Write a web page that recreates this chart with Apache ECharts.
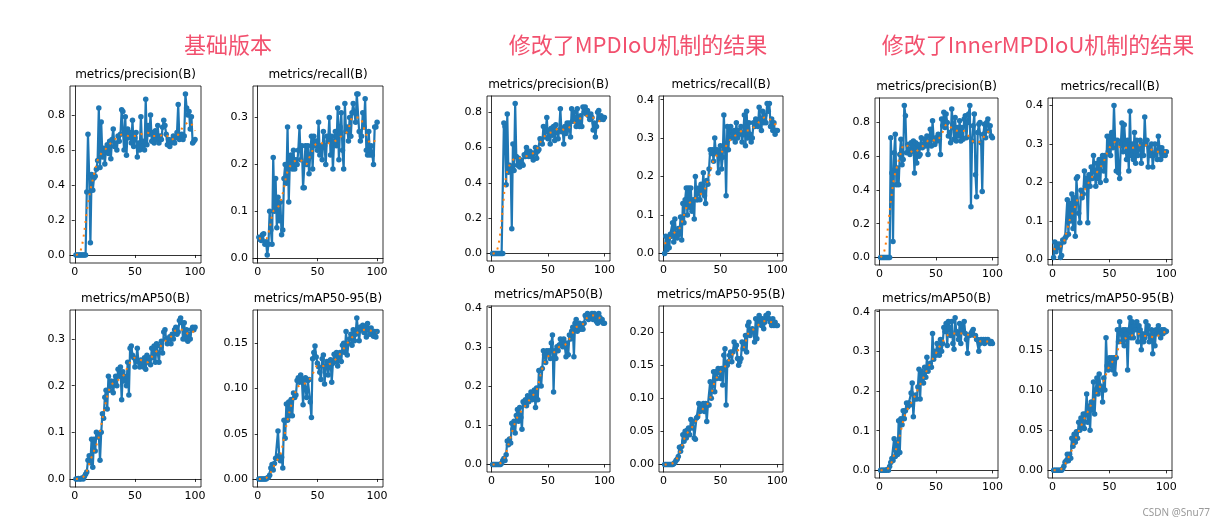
<!DOCTYPE html>
<html><head><meta charset="utf-8">
<script src="https://cdn.jsdelivr.net/npm/echarts@6/dist/echarts.min.js"></script>
<style>html,body{margin:0;padding:0;background:#fff}#c{width:1223px;height:528px}</style>
</head><body><div id="c"></div>
<script>
const epochs = [1,2,3,4,5,6,7,8,9,10,11,12,13,14,15,16,17,18,19,20,21,22,23,24,25,26,27,28,29,30,31,32,33,34,35,36,37,38,39,40,41,42,43,44,45,46,47,48,49,50,51,52,53,54,55,56,57,58,59,60,61,62,63,64,65,66,67,68,69,70,71,72,73,74,75,76,77,78,79,80,81,82,83,84,85,86,87,88,89,90,91,92,93,94,95,96,97,98,99,100];
const smoothEpochs = [1,4,7,10,13,16,19,22,25,30,35,40,45,50,55,60,65,70,75,80,85,90,95,100];

const groupTitles = ['基础版本','修改了MPDIoU机制的结果','修改了InnerMPDIoU机制的结果'];
const panelTitles = ['metrics/precision(B)','metrics/recall(B)','metrics/mAP50(B)','metrics/mAP50-95(B)'];
const xTickValues = [0,50,100];

// ---- 基础版本 ----
const baseP = [0,0,0,0,0,0,0,0,0,0.36,
 0.69,0.45,0.07,0.46,0.37,0.44,0.45,0.49,0.54,0.84,
 0.50,0.76,0.56,0.61,0.52,0.60,0.63,0.58,0.65,0.55,
 0.66,0.72,0.62,0.64,0.60,0.68,0.65,0.69,0.83,0.82,
 0.60,0.79,0.57,0.72,0.67,0.70,0.64,0.77,0.62,0.67,
 0.70,0.56,0.64,0.60,0.79,0.62,0.65,0.60,0.89,0.63,
 0.74,0.69,0.80,0.65,0.70,0.64,0.71,0.66,0.74,0.64,
 0.68,0.66,0.73,0.77,0.74,0.69,0.63,0.66,0.62,0.64,
 0.66,0.68,0.64,0.67,0.70,0.86,0.66,0.68,0.69,0.66,
 0.68,0.92,0.84,0.80,0.82,0.72,0.79,0.64,0.65,0.66];
const basePSmooth = [0,0.01,0.09,0.25,0.37,0.46,0.54,0.58,0.60,0.64,0.67,0.69,0.68,0.68,0.69,0.70,0.68,0.68,0.69,0.66,0.68,0.73,0.76,0.71];

const baseR = [0.045,0.04,0.038,0.05,0.052,0.03,0.035,0.007,0.03,0.10,
 0.06,0.03,0.215,0.10,0.17,0.065,0.13,0.08,0.12,0.05,
 0.06,0.17,0.20,0.16,0.28,0.12,0.21,0.22,0.19,0.23,
 0.19,0.21,0.20,0.23,0.28,0.21,0.24,0.15,0.15,0.24,
 0.20,0.24,0.18,0.22,0.26,0.19,0.26,0.24,0.25,0.23,
 0.29,0.22,0.24,0.21,0.27,0.24,0.20,0.26,0.25,0.30,
 0.22,0.26,0.19,0.25,0.27,0.24,0.32,0.21,0.28,0.31,
 0.23,0.19,0.33,0.27,0.28,0.25,0.30,0.26,0.31,0.33,
 0.31,0.29,0.35,0.35,0.27,0.25,0.26,0.31,0.28,0.34,
 0.23,0.22,0.27,0.22,0.24,0.22,0.20,0.28,0.28,0.29];
const baseRSmooth = [0.042,0.043,0.042,0.065,0.10,0.105,0.12,0.15,0.185,0.205,0.21,0.20,0.225,0.245,0.245,0.245,0.25,0.26,0.27,0.30,0.30,0.27,0.245,0.255];

const baseM50 = [0,0,0.001,0,0,0.002,0,0.005,0.01,0.015,
 0.04,0.05,0.035,0.085,0.025,0.085,0.06,0.10,0.09,0.095,
 0.04,0.10,0.14,0.13,0.175,0.19,0.15,0.22,0.19,0.21,
 0.20,0.185,0.21,0.22,0.20,0.235,0.22,0.24,0.17,0.23,
 0.21,0.22,0.20,0.25,0.18,0.28,0.285,0.265,0.26,0.24,
 0.255,0.28,0.25,0.24,0.255,0.245,0.24,0.26,0.235,0.265,
 0.25,0.26,0.245,0.28,0.26,0.285,0.25,0.29,0.27,0.25,
 0.285,0.295,0.27,0.315,0.32,0.30,0.29,0.30,0.305,0.29,
 0.31,0.30,0.32,0.325,0.31,0.315,0.34,0.345,0.335,0.30,
 0.335,0.30,0.32,0.295,0.31,0.30,0.32,0.325,0.32,0.325];
const baseM50Smooth = [0,0.001,0.004,0.017,0.04,0.06,0.08,0.115,0.155,0.20,0.21,0.22,0.245,0.26,0.255,0.25,0.265,0.28,0.295,0.305,0.32,0.32,0.31,0.32];

const baseM5095 = [0,0,0,0,0,0,0,0.001,0.002,0.004,
 0.012,0.016,0.01,0.017,0.023,0.023,0.053,0.026,0.02,0.024,
 0.012,0.065,0.045,0.083,0.065,0.085,0.07,0.088,0.07,0.095,
 0.090,0.093,0.109,0.112,0.107,0.115,0.11,0.082,0.11,0.112,
 0.09,0.109,0.11,0.085,0.068,0.133,0.14,0.147,0.135,0.128,
 0.124,0.118,0.110,0.133,0.137,0.105,0.125,0.13,0.115,0.125,
 0.132,0.107,0.128,0.138,0.13,0.14,0.125,0.135,0.14,0.13,
 0.148,0.15,0.140,0.163,0.137,0.15,0.155,0.16,0.148,0.165,
 0.153,0.16,0.178,0.165,0.153,0.168,0.165,0.17,0.162,0.168,
 0.157,0.172,0.165,0.16,0.167,0.163,0.158,0.163,0.157,0.163];
const baseM5095Smooth = [0,0,0.001,0.005,0.013,0.02,0.027,0.045,0.065,0.09,0.104,0.106,0.113,0.125,0.125,0.127,0.132,0.14,0.15,0.158,0.163,0.165,0.164,0.162];

// ---- MPDIoU ----
const mpdP = [0,0,0,0,0,0,0,0,0,0,
 0.74,0.72,0.39,0.79,0.46,0.50,0.48,0.14,0.62,0.47,
 0.85,0.55,0.50,0.54,0.49,0.53,0.51,0.50,0.56,0.55,
 0.60,0.57,0.55,0.58,0.55,0.57,0.53,0.57,0.60,0.54,
 0.58,0.59,0.65,0.64,0.62,0.72,0.66,0.69,0.77,0.65,
 0.70,0.62,0.71,0.67,0.72,0.64,0.73,0.69,0.65,0.70,
 0.82,0.69,0.71,0.62,0.72,0.68,0.74,0.70,0.74,0.66,
 0.82,0.75,0.80,0.77,0.72,0.82,0.74,0.72,0.78,0.72,
 0.83,0.80,0.83,0.79,0.81,0.78,0.76,0.79,0.77,0.70,
 0.74,0.66,0.72,0.80,0.81,0.76,0.78,0.77,0.76,0.77];
const mpdPSmooth = [0,0.005,0.08,0.25,0.44,0.50,0.53,0.54,0.54,0.55,0.56,0.59,0.65,0.68,0.69,0.71,0.70,0.72,0.75,0.77,0.78,0.77,0.75,0.77];

const mpdR = [0,0.045,0.01,0.04,0.015,0.05,0.045,0.08,0.03,0.09,
 0.05,0.04,0.065,0.05,0.095,0.035,0.13,0.08,0.14,0.17,
 0.10,0.17,0.12,0.17,0.11,0.14,0.09,0.20,0.14,0.14,
 0.17,0.14,0.18,0.16,0.21,0.15,0.13,0.19,0.18,0.22,
 0.27,0.26,0.27,0.24,0.30,0.26,0.27,0.21,0.26,0.28,
 0.22,0.25,0.36,0.28,0.15,0.33,0.27,0.32,0.33,0.30,
 0.31,0.32,0.29,0.34,0.30,0.32,0.31,0.33,0.29,0.31,
 0.36,0.28,0.37,0.30,0.34,0.31,0.29,0.30,0.34,0.33,
 0.35,0.34,0.33,0.38,0.35,0.32,0.37,0.34,0.36,0.34,
 0.39,0.37,0.39,0.33,0.35,0.32,0.34,0.31,0.32,0.32];
const mpdRSmooth = [0.025,0.035,0.045,0.055,0.06,0.08,0.11,0.13,0.135,0.15,0.16,0.20,0.25,0.26,0.28,0.30,0.31,0.32,0.32,0.33,0.345,0.355,0.345,0.33];

const mpdM50 = [0,0,0,0,0,0,0,0,0.003,0.01,
 0.015,0.01,0.025,0.06,0.05,0.065,0.055,0.105,0.09,0.11,
 0.08,0.125,0.14,0.11,0.145,0.12,0.09,0.16,0.155,0.165,
 0.15,0.175,0.16,0.17,0.185,0.165,0.17,0.19,0.145,0.195,
 0.165,0.24,0.24,0.20,0.245,0.29,0.28,0.26,0.29,0.28,
 0.29,0.27,0.31,0.33,0.185,0.29,0.27,0.30,0.29,0.305,
 0.32,0.31,0.30,0.32,0.30,0.275,0.31,0.28,0.33,0.32,
 0.34,0.35,0.275,0.36,0.37,0.34,0.35,0.36,0.345,0.355,
 0.345,0.36,0.38,0.375,0.385,0.37,0.38,0.375,0.385,0.37,
 0.385,0.38,0.365,0.36,0.385,0.375,0.365,0.37,0.36,0.36];
const mpdM50Smooth = [0,0,0.002,0.008,0.03,0.06,0.09,0.115,0.13,0.15,0.17,0.19,0.245,0.275,0.285,0.30,0.305,0.325,0.35,0.355,0.375,0.38,0.375,0.365];

const mpdM5095 = [0,0,0,0,0,0,0,0,0.001,0.003,
 0.006,0.008,0.012,0.026,0.02,0.027,0.045,0.035,0.05,0.04,
 0.052,0.055,0.045,0.068,0.055,0.065,0.04,0.038,0.07,0.072,
 0.092,0.08,0.09,0.085,0.092,0.08,0.092,0.065,0.09,0.09,
 0.125,0.10,0.12,0.14,0.11,0.14,0.13,0.145,0.14,0.13,
 0.145,0.12,0.165,0.175,0.09,0.15,0.155,0.165,0.17,0.155,
 0.17,0.185,0.175,0.18,0.16,0.15,0.155,0.16,0.185,0.175,
 0.18,0.195,0.17,0.21,0.215,0.195,0.20,0.205,0.20,0.185,
 0.22,0.19,0.215,0.225,0.22,0.21,0.22,0.205,0.215,0.225,
 0.22,0.228,0.22,0.215,0.21,0.22,0.21,0.215,0.21,0.21];
const mpdM5095Smooth = [0,0,0.001,0.004,0.013,0.027,0.042,0.05,0.056,0.07,0.085,0.095,0.125,0.14,0.15,0.165,0.172,0.175,0.20,0.205,0.213,0.217,0.215,0.213];

// ---- InnerMPDIoU ----
const innP = [0,0,0,0,0,0,0,0,0,0.71,
 0.50,0.095,0.62,0.73,0.43,0.53,0.43,0.61,0.70,0.55,
 0.58,0.90,0.84,0.62,0.67,0.64,0.61,0.68,0.63,0.69,
 0.50,0.68,0.56,0.67,0.60,0.61,0.71,0.65,0.67,0.70,
 0.66,0.72,0.61,0.69,0.76,0.66,0.81,0.70,0.67,0.71,
 0.69,0.73,0.70,0.61,0.82,0.78,0.86,0.77,0.85,0.80,
 0.72,0.74,0.68,0.88,0.79,0.70,0.83,0.69,0.77,0.72,
 0.81,0.69,0.77,0.70,0.82,0.84,0.71,0.80,0.85,0.90,
 0.30,0.69,0.78,0.85,0.49,0.36,0.74,0.79,0.80,0.68,
 0.39,0.73,0.79,0.71,0.80,0.82,0.75,0.78,0.72,0.71];
const innPSmooth = [0,0.03,0.15,0.33,0.47,0.55,0.62,0.67,0.66,0.62,0.64,0.67,0.70,0.69,0.73,0.79,0.76,0.75,0.75,0.71,0.68,0.69,0.74,0.75];

const innR = [0.005,0.045,0.02,0.04,0.03,0.04,0.005,0.01,0.05,0.045,
 0.055,0.06,0.155,0.065,0.145,0.10,0.17,0.08,0.16,0.06,
 0.21,0.215,0.12,0.095,0.18,0.16,0.17,0.23,0.19,0.21,
 0.095,0.22,0.19,0.24,0.21,0.27,0.23,0.19,0.25,0.21,
 0.26,0.20,0.26,0.27,0.23,0.27,0.205,0.32,0.28,0.32,
 0.27,0.33,0.29,0.40,0.31,0.23,0.31,0.225,0.21,0.30,
 0.355,0.28,0.35,0.30,0.26,0.31,0.23,0.385,0.27,0.30,
 0.26,0.33,0.25,0.31,0.27,0.29,0.31,0.25,0.30,0.27,
 0.37,0.30,0.31,0.24,0.29,0.27,0.30,0.24,0.27,0.30,
 0.28,0.26,0.32,0.29,0.26,0.29,0.27,0.28,0.27,0.28];
const innRSmooth = [0.025,0.03,0.033,0.045,0.08,0.11,0.13,0.155,0.165,0.19,0.215,0.23,0.255,0.29,0.305,0.29,0.29,0.29,0.295,0.30,0.29,0.28,0.28,0.28];

const innM50 = [0,0,0,0,0,0,0.002,0,0.01,0.02,
 0.03,0.025,0.08,0.035,0.07,0.04,0.125,0.045,0.13,0.115,
 0.15,0.13,0.15,0.17,0.16,0.17,0.165,0.195,0.22,0.135,
 0.18,0.19,0.18,0.21,0.255,0.18,0.25,0.24,0.22,0.26,
 0.235,0.285,0.25,0.265,0.27,0.26,0.345,0.28,0.30,0.29,
 0.32,0.30,0.29,0.33,0.30,0.32,0.36,0.35,0.37,0.315,
 0.375,0.36,0.34,0.375,0.32,0.305,0.385,0.35,0.345,0.33,
 0.37,0.32,0.365,0.35,0.375,0.345,0.33,0.295,0.34,0.34,
 0.345,0.35,0.355,0.34,0.34,0.33,0.33,0.30,0.32,0.33,
 0.325,0.33,0.32,0.33,0.325,0.33,0.325,0.32,0.325,0.32];
const innM50Smooth = [0,0,0.003,0.015,0.04,0.065,0.10,0.135,0.155,0.18,0.21,0.24,0.27,0.295,0.32,0.34,0.345,0.345,0.345,0.34,0.335,0.325,0.325,0.325];

const innM5095 = [0,0,0,0,0,0,0,0,0.002,0.005,
 0.01,0.012,0.02,0.012,0.02,0.015,0.04,0.03,0.045,0.035,
 0.048,0.04,0.06,0.05,0.065,0.055,0.07,0.052,0.07,0.095,
 0.06,0.08,0.05,0.085,0.075,0.11,0.07,0.10,0.115,0.095,
 0.12,0.105,0.10,0.085,0.115,0.10,0.165,0.13,0.125,0.14,
 0.13,0.14,0.125,0.14,0.12,0.14,0.175,0.16,0.185,0.17,
 0.16,0.175,0.155,0.175,0.17,0.125,0.175,0.19,0.165,0.185,
 0.165,0.18,0.175,0.185,0.16,0.18,0.175,0.15,0.17,0.16,
 0.165,0.185,0.17,0.18,0.16,0.165,0.175,0.145,0.17,0.155,
 0.175,0.17,0.18,0.17,0.165,0.175,0.17,0.175,0.172,0.173];
const innM5095Smooth = [0,0,0.001,0.005,0.013,0.022,0.035,0.045,0.055,0.07,0.085,0.10,0.112,0.13,0.14,0.16,0.165,0.168,0.17,0.167,0.167,0.165,0.17,0.173];

const ticksP = [0,0.2,0.4,0.6,0.8];
const ticks03 = [0,0.1,0.2,0.3];
const ticks04 = [0,0.1,0.2,0.3,0.4];
const ticks015 = [0,0.05,0.10,0.15];
const ticks020 = [0,0.05,0.10,0.15,0.20];

const panels = [
  {t:0, d:baseP, s:basePSmooth, ticks:ticksP, dec:1, r:[70,86,131,177]},
  {t:1, d:baseR, s:baseRSmooth, ticks:ticks03, dec:1, r:[253,86,130,177]},
  {t:2, d:baseM50, s:baseM50Smooth, ticks:ticks03, dec:1, r:[70,310,131,177]},
  {t:3, d:baseM5095, s:baseM5095Smooth, ticks:ticks015, dec:2, r:[253,310,130,177]},
  {t:0, d:mpdP, s:mpdPSmooth, ticks:ticksP, dec:1, r:[487,96,123,165]},
  {t:1, d:mpdR, s:mpdRSmooth, ticks:ticks04, dec:1, r:[659,96,124,165]},
  {t:2, d:mpdM50, s:mpdM50Smooth, ticks:ticks04, dec:1, r:[487,306,123,166]},
  {t:3, d:mpdM5095, s:mpdM5095Smooth, ticks:ticks020, dec:2, r:[659,306,124,166]},
  {t:0, d:innP, s:innPSmooth, ticks:ticksP, dec:1, r:[875,98,123,167]},
  {t:1, d:innR, s:innRSmooth, ticks:ticks04, dec:1, r:[1048,98,124,167]},
  {t:2, d:innM50, s:innM50Smooth, ticks:ticks04, dec:1, r:[875,310,123,168]},
  {t:3, d:innM5095, s:innM5095Smooth, ticks:ticks015, dec:2, r:[1048,310,124,168]}
];

const FONT = 'DejaVu Sans';
const grid = [], xAxis = [], yAxis = [], series = [], graphic = [];

panels.forEach((p, i) => {
  const [l, t, w, h] = p.r;
  grid.push({left:l, top:t, width:w, height:h, show:true, borderColor:'#000', borderWidth:0.8, backgroundColor:'#fff', containLabel:false});
  const all = p.d.concat(p.s);
  const lo = Math.min(...all), hi = Math.max(...all), pad = (hi - lo) * 0.05;
  xAxis.push({type:'value', gridIndex:i, min:-3.95, max:104.95,
    axisLine:{show:true, lineStyle:{color:'#000', width:0.8}},
    axisTick:{show:true, length:3, customValues:xTickValues, lineStyle:{color:'#000', width:0.8}},
    axisLabel:{show:true, customValues:xTickValues, color:'#000', fontSize:11, fontFamily:FONT, margin:4, formatter:v => String(Math.round(v))},
    splitLine:{show:false}});
  yAxis.push({type:'value', gridIndex:i, min:lo - pad, max:hi + pad,
    axisLine:{show:true, lineStyle:{color:'#000', width:0.8}},
    axisTick:{show:true, length:3, customValues:p.ticks, lineStyle:{color:'#000', width:0.8}},
    axisLabel:{show:true, customValues:p.ticks, color:'#000', fontSize:11, fontFamily:FONT, margin:5, formatter:v => v.toFixed(p.dec)},
    splitLine:{show:false}});
  series.push({type:'line', xAxisIndex:i, yAxisIndex:i, data:epochs.map((e, k) => [e, p.d[k]]),
    symbol:'circle', symbolSize:5.5, showSymbol:true, showAllSymbol:true,
    lineStyle:{color:'#1f77b4', width:2.2}, itemStyle:{color:'#1f77b4', borderWidth:0}, z:2, silent:true});
  series.push({type:'line', xAxisIndex:i, yAxisIndex:i, data:smoothEpochs.map((e, k) => [e, p.s[k]]),
    symbol:'none', smooth:0.35,
    lineStyle:{color:'#ff7f0e', width:2, type:[2, 5], cap:'butt'}, z:3, silent:true});
  graphic.push({type:'text', x:l + w / 2, y:t - 5, style:{text:panelTitles[p.t], textAlign:'center', textVerticalAlign:'bottom', fontSize:12, fontFamily:FONT, fill:'#000'}});
});

const headX = [228, 638, 1038];
groupTitles.forEach((g, i) => {
  graphic.push({type:'text', x:headX[i], y:45, style:{text:g, textAlign:'center', textVerticalAlign:'middle', fontSize:22, fontFamily:'Noto Sans CJK SC', fill:'#f2506e'}});
});
graphic.push({type:'text', x:1210, y:513, style:{text:'CSDN @Snu77', textAlign:'right', textVerticalAlign:'middle', fontSize:10, fontFamily:'Noto Sans', fill:'#999'}});

const chart = echarts.init(document.getElementById('c'), null, {renderer:'canvas'});
chart.setOption({animation:false, backgroundColor:'#fff', grid, xAxis, yAxis, series, graphic});
</script></body></html>
